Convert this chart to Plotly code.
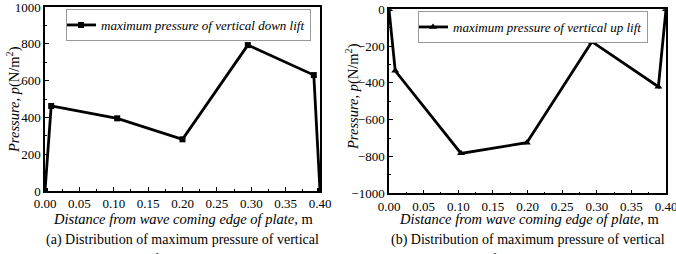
import plotly.graph_objects as go

# Data
x_down = [0.0, 0.009, 0.105, 0.200, 0.295, 0.391, 0.400]
p_down = [0, 462, 395, 281, 793, 630, 0]
x_up = [0.0, 0.009, 0.104, 0.199, 0.293, 0.389, 0.400]
p_up = [0, -334, -783, -725, -176, -421, 0]

W, H = 676, 254
SERIF = "Liberation Serif"

def px(xp):
    return xp / W

def py(yp):
    return 1 - yp / H

fig = go.Figure()
fig.add_trace(go.Scatter(
    x=x_down, y=p_down, mode="lines+markers", xaxis="x", yaxis="y",
    name="maximum pressure of vertical down lift",
    line=dict(color="black", width=2.8),
    marker=dict(symbol="square", size=6, color="black"),
    legend="legend",
))
fig.add_trace(go.Scatter(
    x=x_up, y=p_up, mode="lines+markers", xaxis="x2", yaxis="y2",
    name="maximum pressure of vertical up lift",
    line=dict(color="black", width=2.8),
    marker=dict(symbol="triangle-up", size=7, color="black"),
    legend="legend2",
))

axis_common = dict(
    showline=True, linecolor="black", linewidth=1.5, mirror=True,
    ticks="inside", ticklen=4, tickwidth=1.2, tickcolor="black",
    showgrid=False, zeroline=False, automargin=False, ticklabeloverflow="allow",
    tickfont=dict(family=SERIF, size=13, color="black"),
)
xcommon = dict(axis_common, range=[0, 0.40], dtick=0.05, tick0=0, tickformat=".2f",
               minor=dict(ticks="inside", ticklen=2, dtick=0.025, tickcolor="black"))

fig.update_layout(
    width=W, height=H, margin=dict(l=0, r=0, t=0, b=0, pad=0, autoexpand=False),
    paper_bgcolor="white", plot_bgcolor="white",
    xaxis=dict(xcommon, domain=[px(45), px(320)], anchor="y"),
    yaxis=dict(axis_common, domain=[py(191), py(7)], anchor="x", range=[0, 1000], dtick=200,
               minor=dict(ticks="inside", ticklen=2, dtick=100, tickcolor="black")),
    xaxis2=dict(xcommon, domain=[px(389), px(666)], anchor="y2"),
    yaxis2=dict(axis_common, domain=[py(193.3), py(9.3)], anchor="x2", range=[-1000, 0], dtick=200,
                minor=dict(ticks="inside", ticklen=2, dtick=100, tickcolor="black")),
    legend=dict(x=px(66), y=py(9), xanchor="left", yanchor="top",
                bordercolor="#999999", borderwidth=1, bgcolor="white",
                font=dict(family=SERIF, size=13, color="black", style="italic"),
                itemwidth=30, tracegroupgap=0, indentation=-6),
    legend2=dict(x=px(418), y=py(11), xanchor="left", yanchor="top",
                 bordercolor="#999999", borderwidth=1, bgcolor="white",
                 font=dict(family=SERIF, size=13, color="black", style="italic"),
                 itemwidth=30, tracegroupgap=0, indentation=-6),
    showlegend=True,
)

ann = []
xtitle = "<i>Distance from wave coming edge of plate</i>, m"
ann.append(dict(x=px(183), y=py(219), text=xtitle))
ann.append(dict(x=px(529), y=py(219), text=xtitle))
ytitle = "<i>Pressure, p</i>(N/m<sup>2</sup>)"
ann.append(dict(x=px(14), y=py(100), text=ytitle, textangle=-90))
ann.append(dict(x=px(352), y=py(97), text=ytitle, textangle=-90))
for a in ann:
    a.update(xref="paper", yref="paper", showarrow=False, xanchor="center", yanchor="middle",
             font=dict(family=SERIF, size=14.5, color="black"))

caps = [
    (182, 240, "(a) Distribution of maximum pressure of vertical"),
    (528, 240, "(b) Distribution of maximum pressure of vertical"),
    (182, 259, "down lift at each position"),
    (528, 259, "up lift at each position"),
]
for cx, cy, t in caps:
    ann.append(dict(x=px(cx), y=py(cy), text=t, xref="paper", yref="paper", showarrow=False,
                    xanchor="center", yanchor="middle",
                    font=dict(family=SERIF, size=14, color="black")))

fig.update_layout(annotations=ann)
fig.write_html("out.html")
